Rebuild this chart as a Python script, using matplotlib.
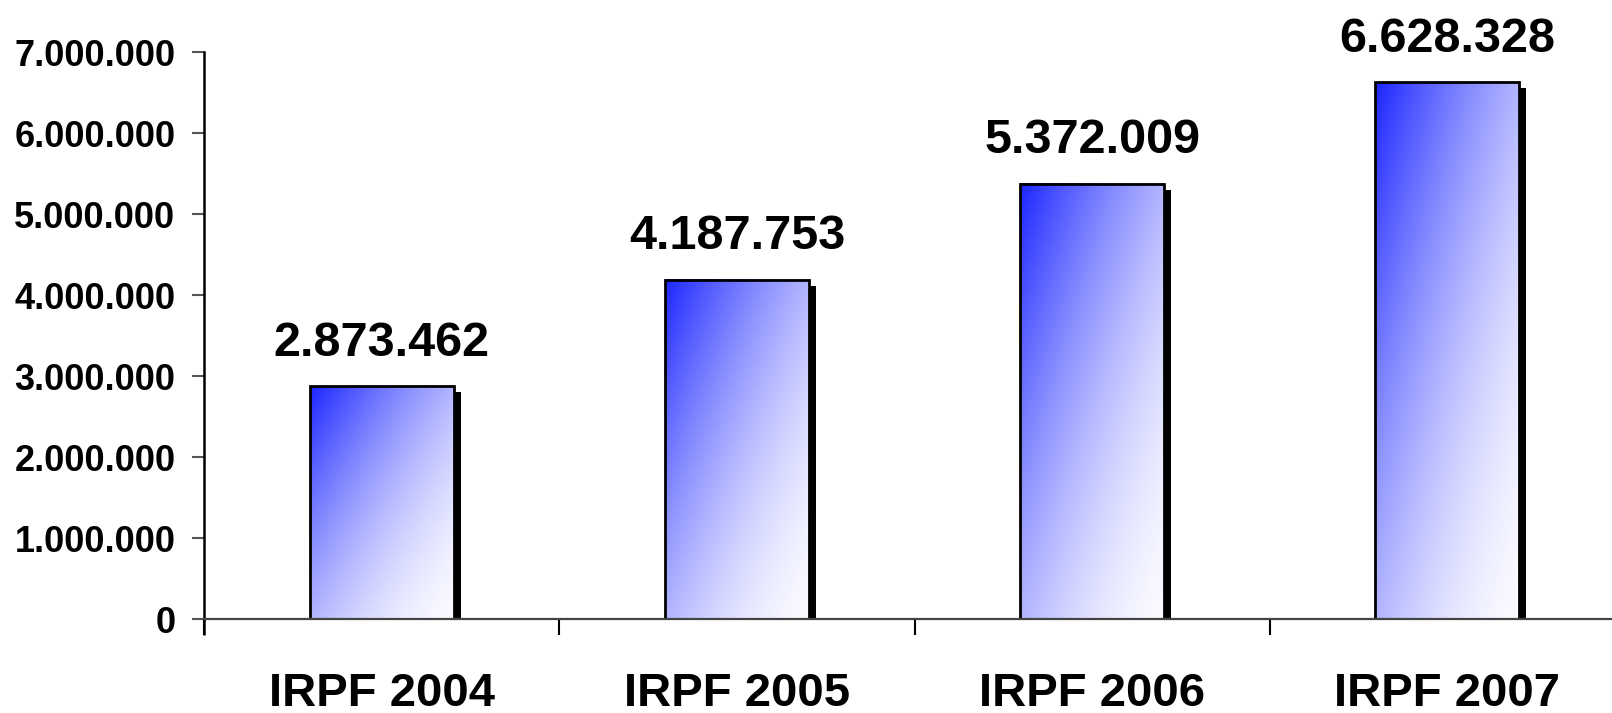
import numpy as np
import matplotlib.pyplot as plt
from matplotlib.patches import Rectangle
from matplotlib.ticker import FuncFormatter, FixedLocator
from matplotlib.transforms import ScaledTranslation

plt.rcParams['font.family'] = ['Liberation Sans', 'DejaVu Sans']
plt.rcParams['font.weight'] = 'bold'

# dados
categorias = ['IRPF 2004', 'IRPF 2005', 'IRPF 2006', 'IRPF 2007']
valores = [2873462, 4187753, 5372009, 6628328]
yticks = [0, 1000000, 2000000, 3000000, 4000000, 5000000, 6000000, 7000000]


def fmt(v, pos=None):
    return f'{int(v):,}'.replace(',', '.')


fig = plt.figure(figsize=(16.12, 7.13), dpi=100)
ax = fig.add_axes([0.1266, 0.1318, 0.8815, 0.7952])

x = np.arange(len(categorias))
largura = 0.405

# gradiente diagonal: azul em cima à esquerda, branco embaixo à direita
azul = np.array([28, 38, 255]) / 255
branco = np.array([250, 250, 255]) / 255
u = np.linspace(0, 1, 100)[None, :]
v = np.linspace(0, 1, 200)[:, None]
t = 1 - (1 - (u + v) / 2) ** 1.6
grad = azul[None, None, :] + (branco - azul)[None, None, :] * t[:, :, None]

sombra = ScaledTranslation(7 / 100, -6 / 100, fig.dpi_scale_trans)

for xi, val in zip(x, valores):
    x0 = xi - largura / 2
    ax.add_patch(Rectangle((x0, 0), largura, val, facecolor='black',
                           edgecolor='none', zorder=1,
                           transform=ax.transData + sombra))
    ax.imshow(grad, extent=(x0, x0 + largura, 0, val), aspect='auto',
              origin='upper', zorder=2, interpolation='bilinear')
    ax.add_patch(Rectangle((x0, 0), largura, val, facecolor='none',
                           edgecolor='black', linewidth=2.0, zorder=3))
    ax.annotate(fmt(val), (xi, val), xytext=(0, 22), textcoords='offset points',
                ha='center', va='baseline', fontsize=35, fontweight='bold')

ax.set_xlim(-0.5, 3.5)
ax.set_ylim(0, 7000000)

ax.set_yticks(yticks)
ax.yaxis.set_major_formatter(FuncFormatter(fmt))
ax.tick_params(axis='y', length=8.6, width=1.5, color='#555555', pad=12,
               labelsize=26)

ax.set_xticks(x)
ax.set_xticklabels(categorias, fontsize=34, fontweight='bold')
ax.xaxis.set_minor_locator(FixedLocator(np.arange(-0.5, 4.0, 1.0)))
ax.tick_params(axis='x', which='major', length=0, pad=38)
ax.tick_params(axis='x', which='minor', length=11.5, width=1.5, color='black')

for s in ['top', 'right']:
    ax.spines[s].set_visible(False)
ax.spines['left'].set_color('black')
ax.spines['left'].set_linewidth(1.8)
ax.spines['bottom'].set_color('#444444')
ax.spines['bottom'].set_linewidth(1.6)
ax.spines['bottom'].set_zorder(4)

# eixo vertical desce abaixo da linha base
ax.plot([0, 0], [0, -16 / 567], transform=ax.transAxes, color='black',
        linewidth=1.8, clip_on=False, solid_capstyle='butt')

fig.savefig('out.png', dpi=100)
